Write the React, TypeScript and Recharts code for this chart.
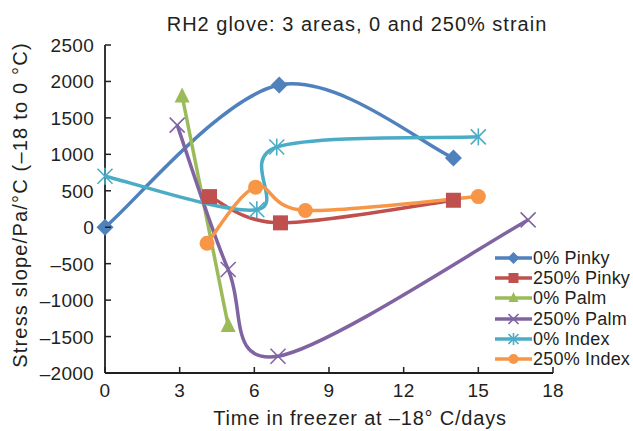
import React from "react";
import { LineChart, Line, XAxis, YAxis } from "recharts";

const font = "'Liberation Sans', Arial, Helvetica, sans-serif";
const ink = "#231f20";

// days in freezer / stress slope
const pinky0 = [
  { x: 0, y: 0 },
  { x: 7, y: 1950 },
  { x: 14, y: 950 },
];
const pinky250 = [
  { x: 4.2, y: 420 },
  { x: 7.05, y: 60 },
  { x: 14, y: 370 },
];
const palm0 = [
  { x: 3.1, y: 1800 },
  { x: 4.95, y: -1350 },
];
const palm250 = [
  { x: 2.9, y: 1400 },
  { x: 4.95, y: -580 },
  { x: 6.95, y: -1770 },
  { x: 17, y: 100 },
];
const index0 = [
  { x: 0, y: 700 },
  { x: 6.1, y: 240 },
  { x: 6.9, y: 1100 },
  { x: 15, y: 1240 },
];
const index250 = [
  { x: 4.1, y: -220 },
  { x: 6.05, y: 550 },
  { x: 8.05, y: 230 },
  { x: 15, y: 420 },
];

const xTicks = [0, 3, 6, 9, 12, 15, 18];
const yTicks = [-2000, -1500, -1000, -500, 0, 500, 1000, 1500, 2000, 2500];

const series = [
  { name: "0% Pinky", data: pinky0, color: "#4F81BD", marker: "diamond" },
  { name: "250% Pinky", data: pinky250, color: "#C0504D", marker: "square" },
  { name: "0% Palm", data: palm0, color: "#9BBB59", marker: "triangle" },
  { name: "250% Palm", data: palm250, color: "#8064A2", marker: "x" },
  { name: "0% Index", data: index0, color: "#4BACC6", marker: "star" },
  { name: "250% Index", data: index250, color: "#F79646", marker: "circle" },
];

// Excel style smoothed line (uniform Catmull-Rom)
const excelSmooth = (context: any) => {
  let pts: number[][] = [];
  return {
    areaStart() {},
    areaEnd() {},
    lineStart() {
      pts = [];
    },
    point(x: number, y: number) {
      pts.push([+x, +y]);
    },
    lineEnd() {
      const n = pts.length;
      if (!n) return;
      context.moveTo(pts[0][0], pts[0][1]);
      if (n === 2) {
        context.lineTo(pts[1][0], pts[1][1]);
        return;
      }
      for (let i = 0; i < n - 1; i++) {
        const p0 = pts[Math.max(i - 1, 0)];
        const p1 = pts[i];
        const p2 = pts[i + 1];
        const p3 = pts[Math.min(i + 2, n - 1)];
        context.bezierCurveTo(
          p1[0] + (p2[0] - p0[0]) / 6,
          p1[1] + (p2[1] - p0[1]) / 6,
          p2[0] - (p3[0] - p1[0]) / 6,
          p2[1] - (p3[1] - p1[1]) / 6,
          p2[0],
          p2[1]
        );
      }
    },
  };
};

function Marker({ kind, cx, cy, color, r = 7.5 }: any) {
  if (cx == null || cy == null) return null;
  switch (kind) {
    case "diamond":
      return (
        <polygon
          points={`${cx},${cy - r - 1} ${cx + r + 1},${cy} ${cx},${cy + r + 1} ${cx - r - 1},${cy}`}
          fill={color}
        />
      );
    case "square":
      return <rect x={cx - r} y={cy - r} width={2 * r} height={2 * r} fill={color} />;
    case "triangle":
      return (
        <polygon
          points={`${cx},${cy - r - 1} ${cx + r},${cy + r - 1} ${cx - r},${cy + r - 1}`}
          fill={color}
        />
      );
    case "x":
      return (
        <g stroke={color} strokeWidth={1.6}>
          <line x1={cx - r} y1={cy - r} x2={cx + r} y2={cy + r} />
          <line x1={cx - r} y1={cy + r} x2={cx + r} y2={cy - r} />
        </g>
      );
    case "star":
      return (
        <g stroke={color} strokeWidth={1.6}>
          <line x1={cx - r} y1={cy - r} x2={cx + r} y2={cy + r} />
          <line x1={cx - r} y1={cy + r} x2={cx + r} y2={cy - r} />
          <line x1={cx} y1={cy - r - 1} x2={cx} y2={cy + r + 1} />
        </g>
      );
    default:
      return <circle cx={cx} cy={cy} r={r} fill={color} />;
  }
}

const minus = (v: number) => (v < 0 ? "\u2013" + Math.abs(v) : String(v));

function XTick({ x, y, payload }: any) {
  return (
    <g>
      <line x1={x} x2={x} y1={y} y2={y - 6} stroke={ink} strokeWidth={1.5} />
      <text x={x} y={y + 24} textAnchor="middle" fontSize={19} fontFamily={font} fill={ink} letterSpacing={0.3}>
        {minus(payload.value)}
      </text>
    </g>
  );
}

function YTick({ x, y, payload }: any) {
  return (
    <g>
      <line x1={x} x2={x + 6} y1={y} y2={y} stroke={ink} strokeWidth={1.5} />
      <text
        x={x - 11}
        y={y + 7}
        textAnchor="end"
        fontSize={19}
        fontFamily={font}
        fill={ink}
        letterSpacing={0.3}
      >
        {minus(payload.value)}
      </text>
    </g>
  );
}

export default function App() {
  return (
    <div
      style={{
        position: "absolute",
        left: 0,
        top: 0,
        width: 633,
        height: 431,
        background: "#fff",
        fontFamily: font,
      }}
    >
      <LineChart width={633} height={431} margin={{ top: 45, right: 80, bottom: 0, left: 0 }}>
        <XAxis
          type="number"
          dataKey="x"
          domain={[0, 18]}
          ticks={xTicks}
          height={58}
          tickSize={0}
          tickMargin={0}
          tickLine={false}
          axisLine={{ stroke: ink, strokeWidth: 1.8 }}
          tick={<XTick />}
          interval={0}
        />
        <YAxis
          type="number"
          domain={[-2000, 2500]}
          ticks={yTicks}
          width={105}
          tickSize={0}
          tickMargin={0}
          tickLine={false}
          axisLine={{ stroke: ink, strokeWidth: 1.8 }}
          tick={<YTick />}
          interval={0}
        />
        {series.map((s) => (
          <Line
            key={s.name}
            name={s.name}
            data={s.data}
            dataKey="y"
            type={excelSmooth as any}
            stroke={s.color}
            strokeWidth={3.5}
            isAnimationActive={false}
            dot={(p: any) => (
              <Marker key={`${s.name}-${p.index}`} kind={s.marker} cx={p.cx} cy={p.cy} color={s.color} />
            )}
            activeDot={false}
          />
        ))}
      </LineChart>

      <svg
        width={633}
        height={431}
        style={{ position: "absolute", left: 0, top: 0, pointerEvents: "none" }}
      >
        <text x={357} y={31} textAnchor="middle" fontSize={20} fontFamily={font} fill={ink} letterSpacing={1}>
          RH2 glove: 3 areas, 0 and 250% strain
        </text>
        <text x={360} y={425} textAnchor="middle" fontSize={20} fontFamily={font} fill={ink} letterSpacing={0.8}>
          Time in freezer at {"\u2013"}18° C/days
        </text>
        <text
          transform="translate(27,205) rotate(-90)"
          textAnchor="middle"
          fontSize={20}
          fontFamily={font}
          fill={ink}
          letterSpacing={1.2}
        >
          Stress slope/Pa/°C ({"\u2013"}18 to 0 °C)
        </text>
      </svg>

      <div style={{ position: "absolute", left: 495, top: 248, width: 138 }}>
        {series.map((s) => (
          <div key={s.name} style={{ display: "flex", alignItems: "center", height: 20.2 }}>
            <svg width={38} height={20}>
              <line x1={0} x2={37} y1={10} y2={10} stroke={s.color} strokeWidth={3.5} />
              <Marker kind={s.marker} cx={18.5} cy={10} color={s.color} r={5} />
            </svg>
            <span style={{ fontSize: 18, color: ink, whiteSpace: "nowrap", lineHeight: "20px", letterSpacing: 0.2 }}>
              {s.name}
            </span>
          </div>
        ))}
      </div>
    </div>
  );
}
